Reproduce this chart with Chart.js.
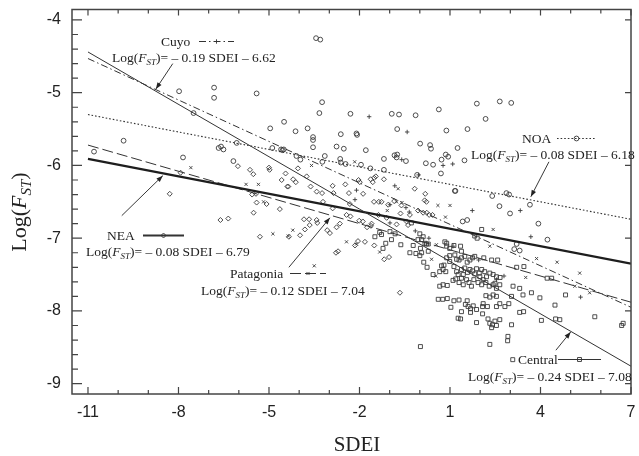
<!DOCTYPE html>
<html>
<head>
<meta charset="utf-8">
<script src="https://cdn.jsdelivr.net/npm/chart.js@4.4.1/dist/chart.umd.min.js"></script>
<style>
  html, body { margin: 0; padding: 0; background: #fff; }
  #wrap { width: 639px; height: 456px; }
</style>
</head>
<body>
<div id="wrap"><canvas id="chart"></canvas></div>
<script>
const xTicks = [-11, -8, -5, -2, 1, 4, 7];
const yTicks = [-9, -8, -7, -6, -5, -4];

const regions = ['Central', 'Cuyo', 'NOA', 'NEA', 'Patagonia'];
const slopes = [-0.24, -0.19, -0.08, -0.08, -0.12];
const intercepts = [-7.08, -6.62, -6.18, -6.79, -7.04];
// fitted lines as drawn, from SDEI -11 to 7
const lineX = [-11, 7];
const lineStartY = [-4.44, -4.53, -5.30, -5.91, -5.72];
const lineEndY = [-8.76, -7.95, -6.74, -7.35, -7.88];

const noaPts = [
  [-7.98,-4.98],[-6.82,-4.93],[-6.82,-5.07],[-5.41,-5.01],[-7.50,-5.28],[-4.96,-5.49],[-4.50,-5.40],
  [-4.60,-5.78],[-4.89,-5.76],[-6.07,-5.69],[-6.67,-5.76],[-6.59,-5.74],[-6.51,-5.78],[-6.18,-5.94],
  [-7.85,-5.89],[-9.82,-5.66],[-10.80,-5.81],[-3.44,-4.25],[-3.30,-4.27],[-3.24,-5.13],[-3.33,-5.28],
  [-2.30,-5.29],[-0.93,-5.29],[-0.69,-5.30],[-0.14,-5.31],[0.63,-5.23],[1.89,-5.15],[2.65,-5.12],
  [3.03,-5.14],[2.18,-5.36],[1.58,-5.50],[0.88,-5.52],[-4.12,-5.53],[-3.72,-5.49],[-3.54,-5.61],
  [-3.54,-5.65],[-3.54,-5.75],[-2.62,-5.57],[-2.10,-5.56],[-2.08,-5.58],[-0.75,-5.50],[-2.76,-5.74],
  [-2.52,-5.77],[-1.79,-5.79],[0.01,-5.70],[0.34,-5.72],[0.37,-5.77],[1.25,-5.76],[-4.09,-5.87],
  [-3.15,-5.87],[-3.96,-5.92],[-3.23,-5.95],[-2.64,-5.91],[-2.62,-5.96],[-2.46,-5.98],[-1.95,-5.99],
  [-1.64,-6.04],[-1.19,-5.91],[-0.84,-5.86],[-0.75,-5.85],[-0.77,-5.89],[-0.46,-5.94],[0.20,-5.97],
  [0.44,-5.99],[0.72,-5.92],[0.86,-5.85],[0.94,-5.88],[0.70,-6.11],[-0.09,-6.13],[1.18,-6.35],
  [1.48,-5.93],[2.87,-6.38],[2.96,-6.40],[2.40,-6.42],[2.64,-6.56],[2.99,-6.66],[3.65,-6.54],
  [3.93,-6.80],[4.23,-7.02],[1.42,-6.77],[1.57,-6.75],[1.16,-6.35],[-4.55,-5.79],[-4.51,-5.78],
  [-1.19,-6.06],[3.21,-7.08],[3.13,-7.15],[3.31,-7.17]
];

const neaPts = [
  [-7.93,-6.10],[-8.29,-6.39],[-5.63,-6.06],[-5.52,-6.12],[-5.00,-6.03],[-4.98,-6.06],[-4.58,-6.20],
  [-4.39,-6.29],[-6.03,-6.01],[-5.56,-6.40],[-5.43,-6.39],[-5.41,-6.51],[-5.08,-6.53],[-4.64,-6.60],
  [-5.51,-6.65],[-6.61,-6.75],[-6.35,-6.73],[-5.30,-6.98],[-4.34,-6.98],[-3.97,-6.96],[-3.81,-6.88],
  [-4.45,-6.11],[-4.04,-6.04],[-4.20,-6.19],[-4.11,-6.23],[-3.75,-6.15],[-4.36,-6.29],[-3.62,-6.29],
  [-3.42,-6.36],[-3.24,-6.38],[-2.89,-6.28],[-2.86,-6.38],[-2.47,-6.26],[-2.35,-6.38],[-3.21,-6.50],
  [-2.89,-6.59],[-3.84,-6.74],[-3.67,-6.74],[-2.32,-6.53],[-3.65,-6.82],[-3.42,-6.75],[-3.40,-6.79],
  [-3.07,-6.89],[-2.98,-6.93],[-2.78,-7.20],[-2.71,-7.18],[-2.05,-7.04],[-2.15,-7.10],[-1.82,-7.05],
  [-1.51,-7.10],[-1.18,-7.29],[-1.02,-7.26],[-0.66,-7.75],[-2.30,-6.70],[-2.43,-6.68],[-2.65,-6.80],
  [-2.76,-6.85],[-2.03,-6.20],[-1.99,-6.23],[-1.88,-6.39],[-1.63,-6.19],[-1.56,-6.23],[-1.51,-6.17],
  [-1.46,-6.15],[-1.19,-6.19],[-0.17,-6.32],[0.18,-6.39],[0.16,-6.48],[0.22,-6.50],[-1.52,-6.50],
  [-1.36,-6.50],[-1.27,-6.50],[-0.85,-6.49],[-0.06,-6.62],[0.11,-6.65],[0.23,-6.65],[0.31,-6.68],
  [0.42,-6.68],[-1.89,-6.77],[-2.01,-6.76],[-1.62,-6.83],[-1.75,-6.85],[-1.05,-6.54],[-0.61,-6.55],
  [-0.33,-6.68],[-0.64,-6.66],[-0.77,-6.81],[-0.44,-6.77],[-0.39,-6.82],[-1.10,-6.72],[-1.37,-6.68],
  [-1.60,-6.80]
];

const cuyoPts = [
  [-1.68,-5.33],[-0.42,-5.54],[-0.60,-5.92],[0.77,-6.00],[1.09,-5.98],[-0.04,-6.13],[-2.10,-6.34],
  [-0.83,-6.28],[-0.99,-6.54],[-0.46,-6.58],[-0.35,-6.64],[1.74,-6.62],[3.33,-6.62],[3.68,-6.98],
  [2.79,-7.52],[5.33,-7.81],[-2.15,-6.47],[1.10,-7.11],[-0.99,-6.79],[2.54,-7.57],[0.30,-7.00],
  [1.95,-7.30],[-0.15,-6.90]
];

const patagoniaPts = [
  [-7.59,-6.03],[-5.76,-6.26],[-5.35,-6.26],[-5.18,-6.50],[-4.87,-6.94],[-4.36,-6.97],[-4.21,-6.89],
  [-3.50,-7.38],[-3.59,-6.00],[-2.16,-5.95],[-0.72,-6.32],[-0.59,-6.51],[-1.08,-6.62],[-0.77,-6.50],
  [0.60,-6.55],[1.00,-6.55],[0.85,-6.71],[2.43,-6.88],[3.87,-7.28],[4.55,-7.33],[5.30,-7.48],
  [5.14,-7.66],[5.63,-7.75],[3.51,-7.54],[-2.43,-7.05],[-2.10,-7.08],[-1.33,-7.19],[0.39,-7.29],
  [0.53,-7.52],[0.55,-7.09],[2.32,-7.11]
];

const centralPts = [
  [-1.22,-7.14],[-1.13,-7.07],[-1.49,-6.98],[-1.33,-6.92],[-1.27,-6.95],[-0.94,-7.02],[-0.99,-6.91],
  [-0.82,-6.94],[-0.63,-7.09],[-0.33,-7.20],[-0.13,-7.21],[0.06,-7.20],[0.28,-7.18],[0.13,-7.33],
  [0.24,-7.40],[0.44,-7.50],[0.72,-7.38],[0.80,-7.37],[0.66,-7.46],[0.86,-7.46],[0.89,-7.27],
  [0.99,-7.24],[0.99,-7.32],[-0.06,-7.02],[0.06,-7.02],[0.17,-7.07],[0.28,-7.08],[-0.28,-6.79],
  [0.00,-6.94],[0.11,-6.98],[0.89,-7.07],[0.89,-7.11],[0.99,-7.14],[1.13,-7.10],[1.35,-7.11],
  [1.38,-7.18],[1.16,-7.23],[1.22,-7.29],[1.30,-7.30],[1.38,-7.27],[1.49,-7.25],[1.57,-7.33],
  [1.66,-7.30],[1.75,-7.27],[1.13,-7.39],[1.22,-7.46],[1.27,-7.50],[1.38,-7.43],[1.44,-7.50],
  [1.49,-7.41],[1.58,-7.47],[1.66,-7.43],[1.75,-7.45],[1.82,-7.49],[1.88,-7.42],[1.97,-7.48],
  [2.05,-7.43],[2.15,-7.46],[2.21,-7.53],[2.32,-7.48],[2.43,-7.50],[2.54,-7.53],[0.66,-7.66],
  [0.77,-7.64],[0.91,-7.65],[1.10,-7.58],[1.19,-7.56],[1.30,-7.61],[1.38,-7.55],[1.44,-7.64],
  [1.55,-7.57],[1.63,-7.61],[1.71,-7.66],[1.79,-7.57],[1.93,-7.61],[2.05,-7.64],[2.19,-7.61],
  [2.30,-7.66],[2.43,-7.64],[2.54,-7.69],[0.61,-7.84],[1.13,-7.86],[1.30,-7.85],[1.57,-7.86],
  [1.60,-7.94],[1.68,-7.97],[1.77,-7.93],[1.88,-7.98],[2.08,-7.94],[2.24,-7.94],[2.19,-7.79],
  [2.32,-7.81],[2.43,-7.78],[2.54,-7.80],[1.27,-8.10],[1.35,-8.11],[1.88,-8.16],[2.08,-8.04],
  [2.26,-8.11],[2.32,-8.17],[2.41,-8.19],[2.49,-8.14],[2.38,-8.23],[2.32,-8.46],[0.02,-8.49],
  [2.05,-6.88],[1.82,-6.97],[1.90,-7.00],[4.37,-7.55],[4.22,-7.55],[3.45,-7.39],[3.21,-7.40],
  [2.58,-7.30],[2.38,-7.30],[2.12,-7.27],[1.82,-7.25],[2.66,-7.54],[2.49,-7.62],[2.65,-7.64],
  [1.99,-7.53],[2.10,-7.57],[3.09,-7.66],[3.04,-7.80],[3.31,-7.69],[3.42,-7.78],[3.70,-7.75],
  [3.98,-7.82],[4.48,-7.92],[4.64,-8.12],[4.03,-8.13],[3.44,-8.01],[2.95,-7.90],[2.82,-7.94],
  [2.54,-7.94],[2.65,-7.90],[2.10,-7.90],[2.54,-8.20],[2.65,-8.12],[3.04,-8.19],[5.80,-8.08],
  [6.69,-8.20],[6.74,-8.17],[2.92,-8.35],[2.91,-8.41],[4.83,-7.78],[3.08,-8.67],[4.50,-8.11],
  [0.00,-7.24],[-0.22,-7.10],[0.02,-7.14],[0.22,-7.08],[0.77,-7.43],[0.83,-7.05],[1.38,-8.01],
  [1.51,-7.91],[1.68,-8.02],[0.76,-7.84],[0.91,-7.83],[1.03,-7.95],[3.31,-8.02]
];

const INK = '#333';
const SERIF = '"Liberation Serif", "Times New Roman", serif';
const SANS = '"Liberation Sans", Arial, sans-serif';

// per region: marker, line dash, line width
const styles = {
  Central:   { marker: 'rect',     r: 2.8, dash: [],            width: 1 },
  Cuyo:      { marker: 'cross',    r: 2.2, dash: [7, 3, 1.5, 3], width: 1 },
  NOA:       { marker: 'circle',   r: 2.4, dash: [1.6, 2],       width: 1.1 },
  NEA:       { marker: 'rectRot',  r: 2.5, dash: [],            width: 2.2 },
  Patagonia: { marker: 'crossRot', r: 2.2, dash: [11, 4],        width: 1 },
};

const pointsByRegion = {
  Central: centralPts, Cuyo: cuyoPts, NOA: noaPts, NEA: neaPts, Patagonia: patagoniaPts,
};

// label boxes in canvas px, arrows in data units (tail -> head)
const labels = {
  Cuyo:      { nameX: 161, nameY: 46,  sample: [199, 234], eqX: 112, eqY: 62,  arrow: [[-8.19, -4.60], [-8.75, -4.95]] },
  NOA:       { nameX: 522, nameY: 143, sample: [557, 596], eqX: 471, eqY: 159, arrow: [[4.28, -5.95], [3.68, -6.43]] },
  NEA:       { nameX: 107, nameY: 240, sample: [143, 184], eqX: 86,  eqY: 256, arrow: [[-9.88, -6.69], [-8.52, -6.14]] },
  Patagonia: { nameX: 230, nameY: 278, sample: [290, 326], eqX: 201, eqY: 295, arrow: [[-4.34, -7.40], [-2.98, -6.72]] },
  Central:   { nameX: 518, nameY: 364, sample: [558, 601], eqX: 468, eqY: 381, arrow: [[4.51, -8.54], [5.00, -8.29]] },
};

function drawMarker(ctx, style, x, y, r) {
  ctx.beginPath();
  if (style === 'circle') {
    ctx.arc(x, y, r, 0, Math.PI * 2);
  } else if (style === 'rect') {
    const s = r * Math.SQRT1_2;
    ctx.rect(x - s, y - s, 2 * s, 2 * s);
  } else if (style === 'rectRot') {
    ctx.moveTo(x - r, y); ctx.lineTo(x, y - r); ctx.lineTo(x + r, y); ctx.lineTo(x, y + r); ctx.closePath();
  } else if (style === 'cross') {
    ctx.moveTo(x - r, y); ctx.lineTo(x + r, y); ctx.moveTo(x, y - r); ctx.lineTo(x, y + r);
  } else {
    const s = r * Math.SQRT1_2;
    ctx.moveTo(x - s, y - s); ctx.lineTo(x + s, y + s); ctx.moveTo(x + s, y - s); ctx.lineTo(x - s, y + s);
  }
  ctx.stroke();
}

// writes Log(F_ST) with italic F and subscript ST, returns end x
function drawLogF(ctx, x, y, size) {
  let cx = x;
  const put = (t, font, dy) => {
    ctx.font = font;
    ctx.fillText(t, cx, y + dy);
    cx += ctx.measureText(t).width;
  };
  put('Log(', `${size}px ${SERIF}`, 0);
  put('F', `italic ${size}px ${SERIF}`, 0);
  put('ST', `italic ${Math.round(size * 0.68)}px ${SERIF}`, size * 0.22);
  put(')', `${size}px ${SERIF}`, 0);
  return cx;
}

function eqText(i) {
  return `= – ${Math.abs(slopes[i]).toFixed(2)} SDEI – ${Math.abs(intercepts[i]).toFixed(2)}`;
}

const decorPlugin = {
  id: 'decor',
  afterDraw(chart) {
    const { ctx, chartArea: a, scales: { x, y } } = chart;
    ctx.save();

    // frame
    ctx.strokeStyle = '#444';
    ctx.lineWidth = 1.5;
    ctx.setLineDash([]);
    ctx.strokeRect(a.left, a.top, a.right - a.left, a.bottom - a.top);

    // inward ticks
    ctx.lineWidth = 1.2;
    ctx.beginPath();
    for (let v = -11; v <= 7; v++) {
      const px = x.getPixelForValue(v);
      const major = xTicks.includes(v);
      ctx.moveTo(px, a.bottom); ctx.lineTo(px, a.bottom - (major ? 7 : 4));
      ctx.moveTo(px, a.top); ctx.lineTo(px, a.top + (major ? 6 : 4));
    }
    for (let i = 0; i <= 25; i++) {
      const v = -9 + i * 0.2;
      const py = y.getPixelForValue(v);
      const major = i % 5 === 0;
      ctx.moveTo(a.left, py); ctx.lineTo(a.left + (major ? 10 : 6), py);
      if (major) { ctx.moveTo(a.right, py); ctx.lineTo(a.right - 6, py); }
    }
    ctx.stroke();

    // axis titles
    ctx.fillStyle = '#222';
    ctx.textBaseline = 'alphabetic';
    ctx.textAlign = 'left';
    ctx.font = `21px ${SERIF}`;
    const tw = ctx.measureText('SDEI').width;
    ctx.fillText('SDEI', 357 - tw / 2, 451);

    ctx.save();
    ctx.translate(26, 212);
    ctx.rotate(-Math.PI / 2);
    const probe = document.createElement('canvas').getContext('2d');
    const w = drawLogF(probe, 0, 0, 22);
    drawLogF(ctx, -w / 2, 0, 22);
    ctx.restore();

    // region labels, legend samples, equations and arrows
    regions.forEach((name, i) => {
      const lb = labels[name];
      const st = styles[name];
      ctx.fillStyle = '#222';
      ctx.font = `13.5px ${SERIF}`;
      ctx.fillText(name, lb.nameX, lb.nameY);

      const sy = lb.nameY - 4.5;
      ctx.strokeStyle = INK;
      ctx.lineWidth = st.width;
      ctx.setLineDash(st.dash);
      ctx.beginPath();
      ctx.moveTo(lb.sample[0], sy);
      ctx.lineTo(lb.sample[1], sy);
      ctx.stroke();
      ctx.setLineDash([]);
      ctx.lineWidth = 0.9;
      drawMarker(ctx, st.marker, (lb.sample[0] + lb.sample[1]) / 2, sy, st.r);

      ctx.fillStyle = '#222';
      const ex = drawLogF(ctx, lb.eqX, lb.eqY, 13.5);
      ctx.font = `13.5px ${SERIF}`;
      ctx.fillText(eqText(i), ex, lb.eqY);

      const [t, h] = lb.arrow;
      const x0 = x.getPixelForValue(t[0]), y0 = y.getPixelForValue(t[1]);
      const x1 = x.getPixelForValue(h[0]), y1 = y.getPixelForValue(h[1]);
      ctx.strokeStyle = '#222';
      ctx.lineWidth = 0.9;
      ctx.beginPath();
      ctx.moveTo(x0, y0);
      ctx.lineTo(x1, y1);
      ctx.stroke();
      const ang = Math.atan2(y1 - y0, x1 - x0);
      ctx.fillStyle = '#222';
      ctx.beginPath();
      ctx.moveTo(x1, y1);
      ctx.lineTo(x1 - 7 * Math.cos(ang - 0.35), y1 - 7 * Math.sin(ang - 0.35));
      ctx.lineTo(x1 - 7 * Math.cos(ang + 0.35), y1 - 7 * Math.sin(ang + 0.35));
      ctx.closePath();
      ctx.fill();
    });

    ctx.restore();
  },
};

const datasets = [];
regions.forEach((name) => {
  const st = styles[name];
  datasets.push({
    type: 'scatter',
    label: name,
    data: pointsByRegion[name].map(([px, py]) => ({ x: px, y: py })),
    pointStyle: st.marker,
    pointRadius: st.r,
    pointBorderWidth: 0.9,
    pointBorderColor: '#3a3a3a',
    pointBackgroundColor: 'rgba(0,0,0,0)',
    order: 2,
  });
});
regions.forEach((name, i) => {
  const st = styles[name];
  datasets.push({
    type: 'line',
    label: name + ' fit',
    data: [{ x: lineX[0], y: lineStartY[i] }, { x: lineX[1], y: lineEndY[i] }],
    borderColor: name === 'NEA' ? '#1e1e1e' : INK,
    borderWidth: st.width,
    borderDash: st.dash,
    pointRadius: 0,
    fill: false,
    order: 1,
  });
});

new Chart(document.getElementById('chart'), {
  type: 'scatter',
  data: { datasets },
  options: {
    responsive: true,
    maintainAspectRatio: false,
    animation: false,
    layout: { padding: { top: 9.5, right: 8, left: 0, bottom: 0 } },
    plugins: { legend: { display: false }, tooltip: { enabled: false } },
    scales: {
      x: {
        type: 'linear',
        min: -11.53,
        max: 7,
        grid: { display: false, drawTicks: false },
        border: { display: false },
        afterBuildTicks: (s) => { s.ticks = xTicks.map((v) => ({ value: v })); },
        afterFit: (s) => { s.height = 62; s.paddingLeft = 0; s.paddingRight = 0; },
        ticks: {
          padding: 9,
          color: '#222',
          autoSkip: false,
          maxRotation: 0,
          font: { family: SANS, size: 16 },
          callback: (v) => String(v),
        },
      },
      y: {
        type: 'linear',
        min: -9.142,
        max: -3.856,
        grid: { display: false, drawTicks: false },
        border: { display: false },
        afterBuildTicks: (s) => { s.ticks = yTicks.map((v) => ({ value: v })); },
        afterFit: (s) => { s.width = 72; s.paddingTop = 0; s.paddingBottom = 0; },
        ticks: {
          padding: 11,
          color: '#222',
          font: { family: SANS, size: 16 },
          callback: (v) => String(v),
        },
      },
    },
  },
  plugins: [decorPlugin],
});
</script>
</body>
</html>
